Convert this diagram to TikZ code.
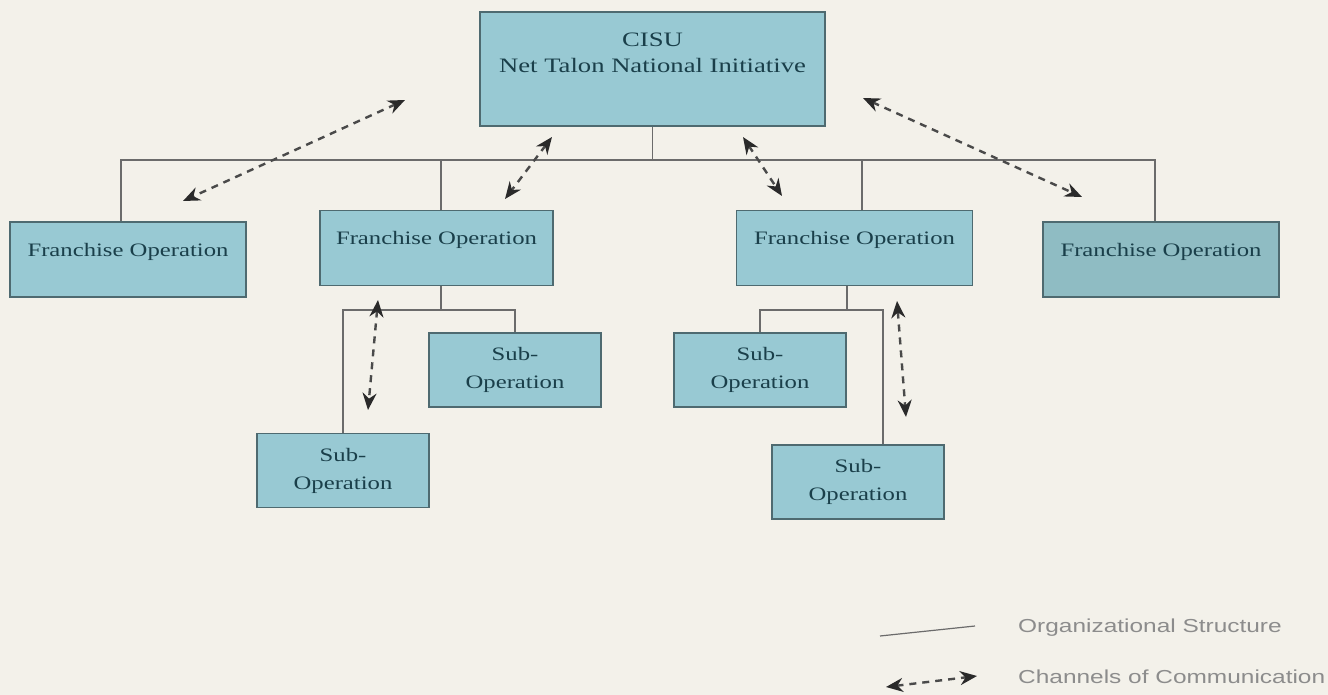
\documentclass[tikz,border=0pt]{standalone}
\usepackage{fontspec}
\setmainfont{Liberation Serif}[FakeStretch=1.3]
\newfontfamily\legendfont{Liberation Sans}[FakeStretch=1.3]
\usetikzlibrary{arrows.meta}
\definecolor{bgc}{HTML}{F3F1EA}
\definecolor{boxfill}{HTML}{98C9D3}
\definecolor{boxfilldim}{HTML}{8FBCC3}
\definecolor{boxline}{HTML}{4E6A70}
\definecolor{boxtext}{HTML}{1A3F4A}
\definecolor{orgline}{HTML}{6B6B6B}
\definecolor{comline}{HTML}{4A4A4A}
\definecolor{comhead}{HTML}{2A2A2A}
\definecolor{legtext}{HTML}{8C8C8C}
\begin{document}
\begin{tikzpicture}[x=1pt,y=-1pt,
  box/.style={draw=boxline, fill=boxfill, line width=1.2pt, inner sep=0pt, text=boxtext},
  fobox/.style={box, minimum width=236pt, minimum height=75pt,
    font=\fontsize{19}{23}\selectfont, text height=13pt, text depth=19.5pt},
  subbox/.style={box, minimum width=172pt, minimum height=74pt, align=center,
    font=\fontsize{19}{28}\selectfont},
  org/.style={draw=orgline, line width=1.2pt},
  com/.style={draw=comline, line width=2.4pt, dash pattern=on 7pt off 6pt,
    {Stealth[length=17pt,width=14pt,color=comhead]}-{Stealth[length=17pt,width=14pt,color=comhead]}},
  legend/.style={anchor=west, inner sep=0pt, text=legtext, font=\legendfont\fontsize{18.8}{22}\selectfont}
]
\fill[bgc] (0,0) rectangle (1328,695);
\useasboundingbox (0,0) rectangle (1328,695);

% main box
\node[box, minimum width=345pt, minimum height=114pt,
  label={[anchor=north, inner sep=0pt, yshift=-21pt, align=center, text=boxtext,
          font=\fontsize{20.5}{26}\selectfont]north:CISU\\Net Talon National Initiative}]
  (cisu) at (652.5,69) {};

% franchise operations
\node[fobox] (fo1) at (128,259.5) {Franchise Operation};
\node[fobox, minimum width=233pt] (fo2) at (436.5,248) {Franchise Operation};
\node[fobox] (fo3) at (854.5,248) {Franchise Operation};
\node[fobox, fill=boxfilldim] (fo4) at (1161,259.5) {Franchise Operation};

% sub operations
\node[subbox] (suba) at (515,370) {Sub-\\Operation};
\node[subbox] (subb) at (343,470.5) {Sub-\\Operation};
\node[subbox] (subc) at (760,370) {Sub-\\Operation};
\node[subbox] (subd) at (858,482) {Sub-\\Operation};

% organizational structure
\coordinate (bar) at (652.5,160);
\coordinate (bar2) at (441,310);
\coordinate (bar3) at (847,310);
\path[org] (cisu.south) -- (cisu.south |- bar);
\path[org] ([xshift=-7pt]fo1.north) -- ([xshift=-7pt]fo1.north |- bar)
  -- ([xshift=-6pt]fo4.north |- bar) -- ([xshift=-6pt]fo4.north);
\path[org] ([xshift=4.5pt]fo2.north) -- ([xshift=4.5pt]fo2.north |- bar);
\path[org] ([xshift=7.5pt]fo3.north) -- ([xshift=7.5pt]fo3.north |- bar);
\path[org] ([xshift=4.5pt]fo2.south) -- ([xshift=4.5pt]fo2.south |- bar2);
\path[org] (subb.north) -- (subb.north |- bar2) -- (suba.north |- bar2) -- (suba.north);
\path[org] ([xshift=-7.5pt]fo3.south) -- ([xshift=-7.5pt]fo3.south |- bar3);
\path[org] (subc.north) -- (subc.north |- bar3) -- ([xshift=25pt]subd.north |- bar3) -- ([xshift=25pt]subd.north);

% channels of communication
\coordinate (c1a) at (405,100); \coordinate (c1b) at (183,201);
\coordinate (c2a) at (552,137); \coordinate (c2b) at (505,199);
\coordinate (c3a) at (743,137); \coordinate (c3b) at (782,196);
\coordinate (c4a) at (863,98); \coordinate (c4b) at (1082,197);
\coordinate (c5a) at (378,300); \coordinate (c5b) at (368,410);
\coordinate (c6a) at (897,301); \coordinate (c6b) at (906,417);
\path[com] (c1a) -- (c1b);
\path[com] (c2a) -- (c2b);
\path[com] (c3a) -- (c3b);
\path[com] (c4a) -- (c4b);
\path[com] (c5a) -- (c5b);
\path[com] (c6a) -- (c6b);

% legend
\coordinate (l1a) at (880,636); \coordinate (l1b) at (975,626);
\coordinate (l2a) at (886,687); \coordinate (l2b) at (977,676);
\path[org] (l1a) -- (l1b);
\path[com] (l2a) -- (l2b);
\node[legend] (lt1) at (1018,628) {Organizational Structure};
\node[legend] (lt2) at (1018,677) {Channels of Communication};
\end{tikzpicture}
\end{document}
